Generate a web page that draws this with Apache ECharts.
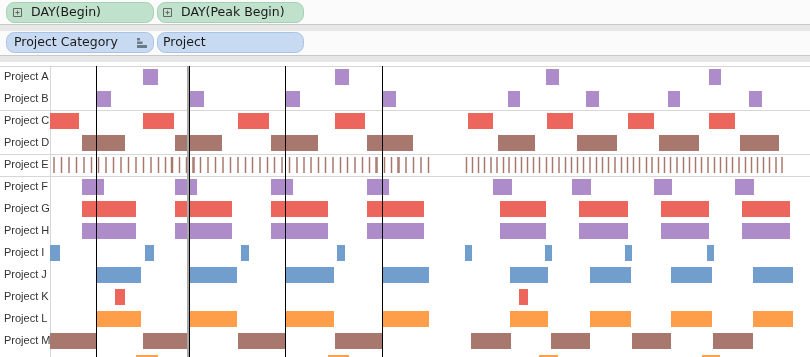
<!DOCTYPE html>
<html><head><meta charset="utf-8">
<script src="https://cdn.jsdelivr.net/npm/echarts@6/dist/echarts.min.js"></script>
<style>html,body{margin:0;padding:0;background:#fff;overflow:hidden;}#c{width:810px;height:374px;}</style>
</head><body><div id="c"></div>
<script>
// ---------- data (x values are day indices along DAY(Begin)) ----------
const projects = ['Project A','Project B','Project C','Project D','Project E','Project F','Project G',
                  'Project H','Project I','Project J','Project K','Project L','Project M','Project N'];
const projA = [[143,158],[335,349],[546,559],[709,721]];
const projB = [[96.5,111],[189.5,204],[285.5,300],[382.5,396],[508,520],[586,599],[668,680],[749,762]];
const projC = [[50,79],[143,174],[238,269],[335,365],[468,493],[547,573],[628,654],[709,735]];
const projD = [[82,125],[175,222],[271,318],[367,413],[498,535],[577,617],[659,699],[740,779]];
const projE = [54,61.5,69,76.5,84,91.5,98.5,106,113.5,121,128.5,136,143.5,151,158.5,165.5,171.5,172.5,
  179.5,186.5,193,194,200.5,208,215.5,223,230.5,238,245.5,252.5,260,267.5,274.5,282,289.5,297,304,311,
  318.5,325.5,333,340.5,347.5,355,362.5,369.5,376,377,384.5,391.5,398,399,406,413.5,421,428.5,
  466.5,472.5,478.5,484.5,491,497,503.5,509,515.5,521.5,527.5,533.5,539.5,546.5,552.5,559,565.5,571.5,
  577.5,583.5,590,596.5,602.5,608.5,615,621.5,627.5,633.5,639.5,646.5,652,658.5,664.5,670.5,677,683.5,
  689.5,695.5,701.5,708,714.5,720.5,726.5,732.5,739,745.5,751.5,757.5,763.5,769.5,776,782];
const projF = [[82,104],[175,197],[271,293],[367,389],[493,512],[572,591],[654,672],[735,754]];
const projG = [[82,136],[175,232],[271,328],[367,424],[500,546],[579,628],[661,709],[742,790]];
const projH = [[82,136],[175,232],[271,328],[367,424],[500,546],[579,628],[661,709],[742,790]];
const projI = [[50,60],[145,154],[241,249],[337,345],[465,472],[545,552],[625,632],[707,714]];
const projJ = [[96.5,141],[189.5,237],[285.5,334],[382.5,429],[510,548],[590,631],[671,712],[753,793]];
const projK = [[115,125],[519,528]];
const projL = [[96.5,141],[189.5,237],[285.5,334],[382.5,429],[510,548],[590,631],[671,712],[753,793]];
const projM = [[50,96],[143,187],[238,285],[335,382],[471,511],[551,590],[632,671],[713,753]];
const projN = [[136,158],[328,349],[539,558],[702,720]];
const peakLines = [96.5, 189.5, 285.5, 382.5];
const grayLines = [188];
const categoryStarts = [0, 2, 4, 5]; // first row index of each Project Category

// ---------- styles ----------
const C = {purple:'#ae8bc9', red:'#ed665d', brown:'#a8786e', blue:'#729ece', orange:'#ff9e4a'};
const projectColors = [C.purple,C.purple,C.red,C.brown,C.brown,C.purple,C.red,C.purple,C.blue,C.blue,C.red,C.orange,C.brown,C.orange];

const barRows = [projA,projB,projC,projD,null,projF,projG,projH,projI,projJ,projK,projL,projM,projN];
const barData = [];
barRows.forEach((arr, i) => { if (arr) arr.forEach(([s, e]) => barData.push([i, s, e])); });
const tickData = projE.map(x => [4, x]);

function renderBar(params, api) {
  const row = api.value(0);
  const a = api.coord([api.value(1), row]);
  const b = api.coord([api.value(2), row]);
  const h = api.size([0, 1])[1] * 16 / 22;
  return {type:'rect', shape:{x:a[0], y:a[1]-h/2, width:b[0]-a[0], height:h},
          style:{fill: projectColors[row]}};
}
function renderTick(params, api) {
  const row = api.value(0);
  const a = api.coord([api.value(1), row]);
  const h = api.size([0, 1])[1] * 16 / 22;
  return {type:'rect', shape:{x:a[0]-0.75, y:a[1]-h/2, width:1.5, height:h},
          style:{fill: projectColors[row]}};
}
const sepInterval = (idx) => categoryStarts.indexOf(idx) >= 0;
const SEP = '#d6d6d6';

function plus(x, y) {
  return [
    {type:'rect', shape:{x:x+0.5, y:y+0.5, width:8, height:8}, style:{fill:'none', stroke:'#666', lineWidth:1}},
    {type:'line', shape:{x1:x+2.5, y1:y+4.5, x2:x+6.5, y2:y+4.5}, style:{stroke:'#666', lineWidth:1}},
    {type:'line', shape:{x1:x+4.5, y1:y+2.5, x2:x+4.5, y2:y+6.5}, style:{stroke:'#666', lineWidth:1}}
  ];
}
function pill(x, y, w, fill, stroke) {
  return {type:'rect', shape:{x:x+0.5, y:y+0.5, width:w, height:20, r:8}, style:{fill, stroke, lineWidth:1}};
}
function txt(x, y, t) {
  return {type:'text', x, y, style:{text:t, font:'12.5px "DejaVu Sans"', fill:'#1a1a1a', textVerticalAlign:'middle'}};
}

const graphic = [
  {type:'rect', shape:{x:0,y:0,width:810,height:24}, style:{fill:'#fbfbfb'}},
  {type:'rect', shape:{x:0,y:24,width:810,height:1}, style:{fill:'#c8c8c8'}},
  {type:'rect', shape:{x:0,y:25,width:810,height:6}, style:{fill:'#e7e7e7'}},
  {type:'rect', shape:{x:0,y:31,width:810,height:24}, style:{fill:'#fbfbfb'}},
  {type:'rect', shape:{x:0,y:55,width:810,height:1}, style:{fill:'#c8c8c8'}},
  {type:'rect', shape:{x:0,y:56,width:810,height:6}, style:{fill:'#e7e7e7'}},
  pill(6, 2, 147, '#c0e1cc', '#a4d0b3'),
  pill(157, 2, 146, '#c0e1cc', '#a4d0b3'),
  ...plus(13, 8), ...plus(163, 8),
  txt(31, 12.5, 'DAY(Begin)'),
  txt(181, 12.5, 'DAY(Peak Begin)'),
  pill(6, 32, 147, '#c7daf2', '#a9c3e6'),
  pill(157, 32, 146, '#c7daf2', '#a9c3e6'),
  txt(14, 43, 'Project Category'),
  txt(163, 43, 'Project'),
  {type:'rect', shape:{x:137,y:38,width:3,height:2.5}, style:{fill:'#6b7a88'}},
  {type:'rect', shape:{x:137,y:41.5,width:5.5,height:2.5}, style:{fill:'#6b7a88'}},
  {type:'rect', shape:{x:137,y:45,width:10,height:3}, style:{fill:'#6b7a88'}}
];

const option = {
  animation: false,
  backgroundColor: '#ffffff',
  graphic,
  grid: [
    {left:0, width:50, top:66, height:308},
    {left:50, right:0, top:66, height:308}
  ],
  xAxis: [
    {gridIndex:0, type:'value', min:0, max:1, show:false},
    {gridIndex:1, type:'value', min:50, max:810, show:false}
  ],
  yAxis: [
    {gridIndex:0, type:'category', data:projects, inverse:true,
     axisLine:{show:false}, axisTick:{show:false},
     axisLabel:{inside:true, margin:4, color:'#333', fontFamily:'Liberation Sans', fontSize:11},
     splitLine:{show:true, interval:sepInterval, lineStyle:{color:SEP, width:1}}},
    {gridIndex:1, type:'category', data:projects, inverse:true,
     axisLine:{show:true, lineStyle:{color:SEP}}, axisTick:{show:false}, axisLabel:{show:false},
     splitLine:{show:true, interval:sepInterval, lineStyle:{color:SEP, width:1}}}
  ],
  series: [
    {type:'custom', xAxisIndex:1, yAxisIndex:1, data:barData, encode:{x:[1,2], y:0},
     renderItem:renderBar, clip:true, silent:true},
    {type:'custom', xAxisIndex:1, yAxisIndex:1, data:tickData, encode:{x:1, y:0},
     renderItem:renderTick, clip:true, silent:true},
    {type:'line', xAxisIndex:1, yAxisIndex:1, data:[], z:10, silent:true,
     markLine:{symbol:'none', silent:true, label:{show:false},
       data:[
         ...grayLines.map(v => ({xAxis:v, lineStyle:{color:'#a9a9a9', width:2, type:'solid'}})),
         ...peakLines.map(v => ({xAxis:v, lineStyle:{color:'#000', width:1, type:'solid'}}))
       ]}}
  ]
};
const chart = echarts.init(document.getElementById('c'), null, {renderer:'canvas'});
chart.setOption(option);
</script></body></html>
